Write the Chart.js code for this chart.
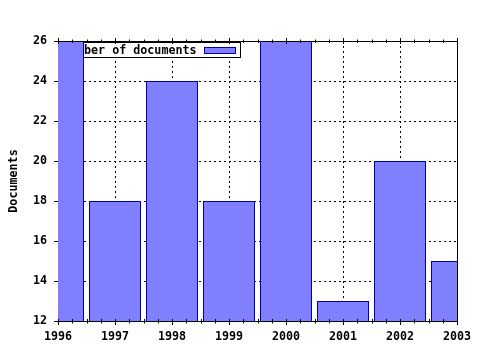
<!DOCTYPE html>
<html>
<head>
<meta charset="utf-8">
<script src="https://cdn.jsdelivr.net/npm/chart.js@4"></script>
<style>
html, body { margin: 0; padding: 0; background: #fff; }
</style>
</head>
<body>
<canvas id="documents" width="480" height="350"></canvas>
<script>
var years = ['1996', '1997', '1998', '1999', '2000', '2001', '2002', '2003'];
var documents = [26, 18, 24, 18, 26, 13, 20, 15];
var seriesName = 'Number of documents';
var yMin = 12;
var yMax = 26;
var yStep = 2;

var fontFamily = '"DejaVu Sans Mono", "Liberation Mono", monospace';
var barFill = '#8080ff';
var barLine = '#0000a8';

Chart.defaults.font.family = fontFamily;
Chart.defaults.font.size = 11.7;
Chart.defaults.font.weight = 'bold';
Chart.defaults.color = '#000';

// frame, minor ticks and the boxed legend that the first bar covers
var framePlugin = {
    id: 'frame',
    beforeDatasetsDraw: function(chart) {
        var ctx = chart.ctx;
        var area = chart.chartArea;
        ctx.save();
        ctx.font = 'bold 11.7px ' + fontFamily;
        var cw = ctx.measureText('N').width;
        var textX = area.left + 26 - 3 * cw;
        var boxL = textX - 3;
        var boxR = area.left + 182;
        var boxT = area.top + 1.5;
        var boxH = 15;
        ctx.fillStyle = '#fff';
        ctx.fillRect(boxL, boxT, boxR - boxL, boxH);
        ctx.strokeStyle = '#000';
        ctx.lineWidth = 1;
        ctx.strokeRect(boxL + 0.5, boxT, boxR - boxL, boxH);
        ctx.fillStyle = '#000';
        ctx.textBaseline = 'middle';
        ctx.textAlign = 'left';
        ctx.fillText(chart.data.datasets[0].label, textX, boxT + boxH / 2 + 1);
        ctx.fillStyle = barFill;
        ctx.fillRect(area.left + 146.5, boxT + 5, 31, 6);
        ctx.strokeStyle = barLine;
        ctx.strokeRect(area.left + 146.5, boxT + 5, 31, 6);
        ctx.restore();
    },
    afterDraw: function(chart) {
        var ctx = chart.ctx;
        var area = chart.chartArea;
        var xs = chart.scales.x;
        ctx.save();
        ctx.strokeStyle = '#000';
        ctx.lineWidth = 1;
        ctx.beginPath();
        ctx.moveTo(area.left, area.top + 0.5);
        ctx.lineTo(area.right + 0.5, area.top + 0.5);
        ctx.moveTo(area.right + 0.5, area.top);
        ctx.lineTo(area.right + 0.5, area.bottom);
        for (var i = 0; i < years.length; i++) {
            for (var k = 0; k < 4; k++) {
                if (i === years.length - 1 && k > 0) break;
                var px = Math.round(xs.getPixelForValue(i + k / 4)) + 0.5;
                var up = k === 0 ? 3 : 1.5;
                var dn = k === 0 ? 3 : 2;
                ctx.moveTo(px, area.top - up);
                ctx.lineTo(px, area.top + dn);
                ctx.moveTo(px, area.bottom - 2);
                ctx.lineTo(px, area.bottom + (k === 0 ? 4 : 2.5));
            }
        }
        ctx.stroke();
        ctx.restore();
    }
};

var ctx = document.getElementById('documents').getContext('2d');
var chart = new Chart(ctx, {
    type: 'bar',
    data: {
        labels: years,
        datasets: [{
            label: seriesName,
            data: documents,
            backgroundColor: barFill,
            borderColor: barLine,
            borderWidth: 1,
            borderSkipped: 'start',
            barPercentage: 52 / 57,
            categoryPercentage: 1,
            clip: {left: 0, right: 0, top: 1, bottom: 0}
        }]
    },
    options: {
        responsive: false,
        animation: false,
        devicePixelRatio: 1,
        layout: {
            padding: {top: 41, right: 23, left: 0, bottom: 0}
        },
        plugins: {
            legend: {display: false},
            tooltip: {enabled: false}
        },
        scales: {
            x: {
                type: 'category',
                offset: false,
                grid: {
                    offset: false,
                    color: '#000',
                    drawTicks: false,
                    tickLength: 4
                },
                border: {display: true, color: '#000', dash: [2, 3]},
                ticks: {
                    padding: 9,
                    maxRotation: 0,
                    autoSkip: false
                },
                afterFit: function(scale) {
                    scale.height = 29;
                    scale.paddingLeft = 0;
                    scale.paddingRight = 0;
                }
            },
            y: {
                min: yMin,
                max: yMax,
                grid: {
                    color: '#000',
                    tickLength: 4,
                    tickColor: '#000'
                },
                border: {display: true, color: '#000', dash: [2, 3]},
                ticks: {
                    stepSize: yStep,
                    padding: 7
                },
                title: {
                    display: true,
                    text: 'Documents',
                    padding: {top: 7, bottom: 0}
                },
                afterFit: function(scale) {
                    scale.width = 58;
                    scale.paddingTop = 0;
                    scale.paddingBottom = 0;
                }
            }
        }
    },
    plugins: [framePlugin]
});
</script>
</body>
</html>
